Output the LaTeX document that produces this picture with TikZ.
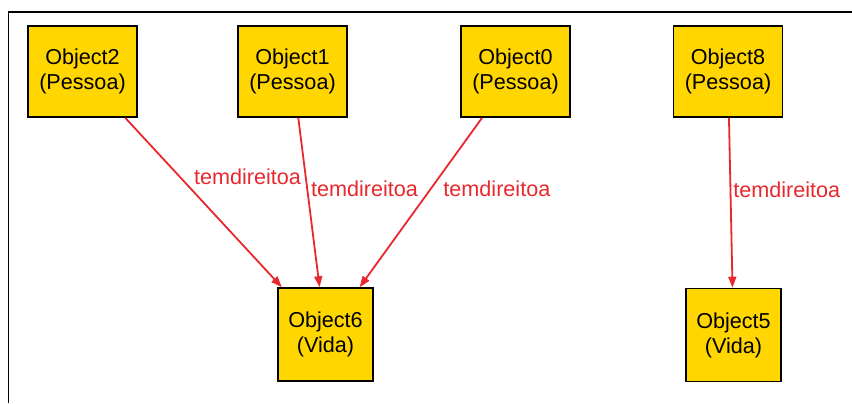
\documentclass[tikz,border=0pt]{standalone}
\usepackage{fontspec}
\setmainfont{Liberation Sans}
\usepackage{tikz}
\usetikzlibrary{arrows.meta,positioning}
\usepackage{xcolor}
\definecolor{objfill}{RGB}{255,214,0}
\definecolor{linkred}{RGB}{232,40,44}

\begin{document}
\begin{tikzpicture}[
    x=0.5pt, y=-0.5pt,
    obj/.style={draw=black, fill=objfill, line width=0.8pt, minimum width=54.5pt, minimum height=45.5pt, align=center, inner sep=0pt, font=\fontsize{10.8}{12.5}\selectfont},
    small/.style={obj, minimum width=47.5pt, minimum height=46.5pt},
    link/.style={-{Triangle[length=5.5pt, width=4pt]}, line width=0.9pt, linkred},
    lbl/.style={anchor=west, inner sep=1pt, text=linkred, font=\fontsize{10.8}{12.5}\selectfont}
]
    \useasboundingbox (0,0) rectangle (852,403);
    \draw[line width=0.8pt] (8.5,403) -- (8.5,12) -- (852,12);

    \node[obj] (o2) at (82.5,71.5) {Object2\\(Pessoa)};
    \node[obj] (o1) at (292.5,71.5) {Object1\\(Pessoa)};
    \node[obj] (o0) at (515.5,71.5) {Object0\\(Pessoa)};
    \node[obj] (o8) at (728,71.5) {Object8\\(Pessoa)};

    \node[small] (o6) at (325.5,334.5) {Object6\\(Vida)};
    \node[small] (o5) at (733.5,335) {Object5\\(Vida)};

    \draw[link] (o2) -- node[lbl, pos=0.351, xshift=5.5pt] {temdireitoa} (o6);
    \draw[link] (o1) -- node[lbl, pos=0.421, xshift=0.5pt] {temdireitoa} (o6);
    \draw[link] (o0) -- node[lbl, pos=0.421, xshift=5pt] {temdireitoa} (o6);
    \draw[link] (o8) -- node[lbl, pos=0.421, xshift=0pt] {temdireitoa} (o5);
\end{tikzpicture}
\end{document}
